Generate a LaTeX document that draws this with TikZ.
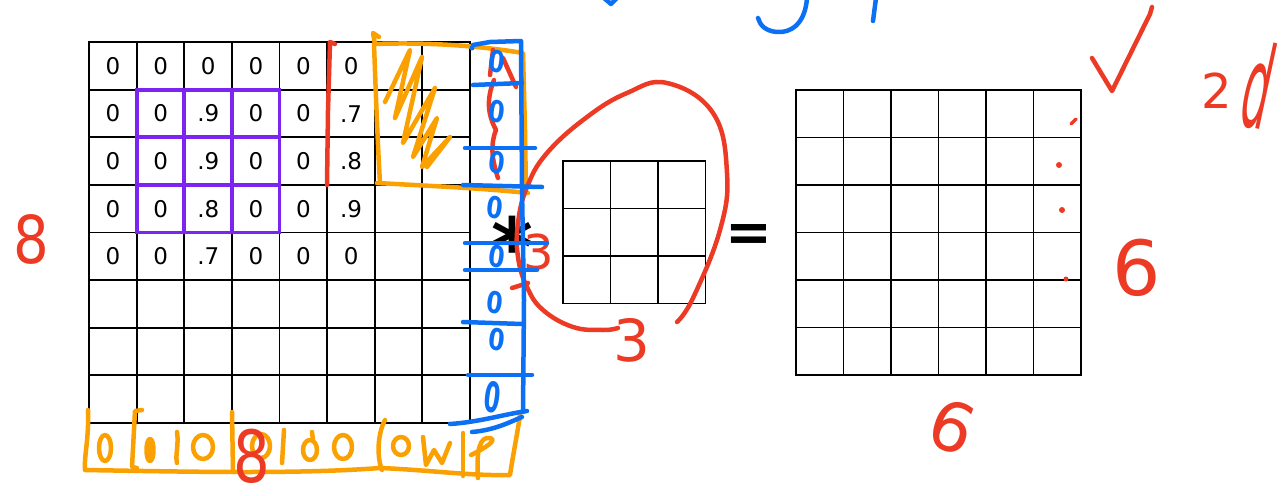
\documentclass[tikz,border=0pt]{standalone}
\usepackage{fontspec}
\setmainfont{DejaVu Sans}
\usepackage{graphicx}
\definecolor{hblue}{RGB}{12,112,245}
\definecolor{horange}{RGB}{250,160,0}
\definecolor{hred}{RGB}{236,58,36}
\definecolor{hpurple}{RGB}{124,36,240}
\tikzset{
  gline/.style={line width=1.8pt, black, line cap=rect},
  val/.style={font=\fontsize{23}{23}\selectfont, inner sep=0pt},
  pen/.style={line width=4.5pt, line cap=round, line join=round},
  bpen/.style={pen, hblue},
  open/.style={pen, horange},
  rpen/.style={pen, hred},
  ppen/.style={line width=3.8pt, hpurple, line cap=round},
  hand/.style={inner sep=0pt},
  bzero/.style={hand, text=hblue, font=\fontsize{30}{30}\selectfont\bfseries, xscale=0.78, rotate=-10},
}
\begin{document}
\begin{tikzpicture}[x=1pt,y=-1pt]
\useasboundingbox (0,0) rectangle (1287,495);
% ---- left 8x8 grid
\foreach \i in {0,...,8}{
  \draw[gline] ({89+\i*47.625},42) -- ({89+\i*47.625},423);
  \draw[gline] (89,{42+\i*47.625}) -- (470,{42+\i*47.625});
}
% ---- kernel 3x3
\foreach \i in {0,...,3}{
  \draw[gline] ({563+\i*47.5},161) -- ({563+\i*47.5},303.5);
  \draw[gline] (563,{161+\i*47.5}) -- (705.5,{161+\i*47.5});
}
% ---- output 6x6
\foreach \i in {0,...,6}{
  \draw[gline] ({796+\i*47.5},90) -- ({796+\i*47.5},375);
  \draw[gline] (796,{90+\i*47.5}) -- (1081,{90+\i*47.5});
}
% ---- values
\foreach \r/\c/\v in {0/0/0,0/1/0,0/2/0,0/3/0,0/4/0,0/5/0,
  1/0/0,1/1/0,1/2/.9,1/3/0,1/4/0,1/5/.7,
  2/0/0,2/1/0,2/2/.9,2/3/0,2/4/0,2/5/.8,
  3/0/0,3/1/0,3/2/.8,3/3/0,3/4/0,3/5/.9,
  4/0/0,4/1/0,4/2/.7,4/3/0,4/4/0,4/5/0}{
  \node[val] (v\r\c) at ({113+\c*47.625},{66+\r*47.625}) {\v};
}
% ---- purple 3x3 window
\draw[ppen] (136.6,89.6) rectangle (279.5,232.5);
\foreach \i in {1,2}{
  \draw[ppen] ({136.6+\i*47.625},89.6) -- ({136.6+\i*47.625},232.5);
  \draw[ppen] (136.6,{89.6+\i*47.625}) -- (279.5,{89.6+\i*47.625});
}
% ---- operators
\node[hand, font=\fontsize{80}{80}\selectfont\bfseries] (conv) at (512,246) {*};
\node[hand, font=\fontsize{56}{56}\selectfont\bfseries] (eq) at (749,238) {=};

% ---- orange annotations
\draw[open] (375,44) -- (373,33) -- (379,37);
\draw[open] (374,44) .. controls (430,42) and (480,46) .. (523,53) -- (525,130) -- (526,193);
\draw[open] (374,44) .. controls (376,100) and (378,150) .. (380,183);
\draw[open] (377,183) .. controls (430,186) and (480,188) .. (528,193);
\draw[open] (385,102) -- (410,50) -- (395,118) -- (422,57) -- (403,143) -- (435,88)
  -- (413,157) -- (437,118) -- (422,167) -- (450,137) -- (427,167);
\draw[open] (88,410) .. controls (89,440) and (84,455) .. (85,470)
  .. controls (200,472) and (300,474) .. (380,468)
  .. controls (430,470) and (470,476) .. (510,475)
  .. controls (513,455) and (518,430) .. (520,415);
\draw[open] (142,410) -- (135,411) -- (132,467) -- (137,468);
\draw[open] (232,412) -- (233,472);
\draw[open] (385,420) .. controls (377,435) and (377,458) .. (382,470);
\draw[open] (463,433) -- (463,476);
\draw[open] (105,448) ellipse [x radius=6pt, y radius=13pt];
\draw[open, fill=horange] (150,450) ellipse [x radius=3.5pt, y radius=11pt];
\draw[open] (177,432) .. controls (179,445) and (175,455) .. (177,463);
\draw[open] (203,447) ellipse [x radius=10pt, y radius=12pt];
\draw[open] (261,446) ellipse [x radius=9pt, y radius=12pt];
\draw[open] (284,430) -- (282,463);
\draw[open] (310,450) ellipse [x radius=7pt, y radius=10pt];
\draw[open] (312,432) -- (313,440);
\draw[open] (343,447) ellipse [x radius=9pt, y radius=12pt];
\draw[open] (401,446) ellipse [x radius=8pt, y radius=9pt];
\draw[open] (423,437) -- (426,465) -- (434,450) -- (442,463) -- (450,443);
\draw[open] (471,455) .. controls (485,448) and (498,440) .. (490,438)
  .. controls (480,436) and (476,450) .. (478,478);

% ---- red annotations
\draw[rpen] (335,44) -- (330,42) -- (328,110) -- (327,185);
\draw[rpen] (490,75) -- (493,50);
\draw[rpen] (503,58) -- (516,87);
\draw[rpen] (494,80) .. controls (486,100) and (488,115) .. (496,130)
  .. controls (490,145) and (492,160) .. (498,178);
\draw[rpen] plot[smooth, tension=0.7] coordinates {(677,322) (693,298) (720,230) (727,173)
  (713,113) (667,83) (627,93) (587,117) (547,153) (527,187) (518,223) (518,257)
  (527,287) (543,310) (573,327) (603,330) (618,328)};
\draw[rpen] (512,288) -- (528,283);
\draw[rpen] (1092,58) -- (1112,91) -- (1150,14) -- (1152,7);
\fill[hred] (1059,165) circle (3pt);
\fill[hred] (1062,210) circle (3pt);
\fill[hred] (1066,279) circle (2.5pt);
\draw[rpen, line width=3.5pt] (1071,124) -- (1076,119);
\node[hand, text=hred, font=\fontsize{66}{66}\selectfont, xscale=0.85] (eightL) at (31,239) {8};
\node[hand, text=hred, font=\fontsize{72}{72}\selectfont, xscale=0.8] (eightB) at (252,456) {8};
\node[hand, text=hred, font=\fontsize{58}{58}\selectfont] (threeK) at (632,340) {3};
\node[hand, text=hred, font=\fontsize{48}{48}\selectfont] (threeA) at (539,252) {3};
\node[hand, text=hred, font=\fontsize{76}{76}\selectfont] (sixR) at (1137,268) {6};
\node[hand, text=hred, font=\fontsize{68}{68}\selectfont, rotate=-20] (sixB) at (952,427) {6};
\node[hand, text=hred, anchor=base west, font=\fontsize{48}{48}\selectfont] (twod) at (1201,108)
  {2\hspace{4pt}\raisebox{-16pt}{\fontsize{72}{72}\selectfont\rotatebox{-12}{\scalebox{0.6}[1.6]{d}}}};

% ---- blue annotations
\draw[bpen] (473,45) -- (490,42) -- (521,41) -- (522,190) -- (524,300) -- (523,412);
\fill[hblue] (472,48) circle (2.5pt);
\draw[bpen] (473,85) -- (522,83);
\draw[bpen] (465,148) -- (535,148);
\draw[bpen] (463,185) -- (542,187);
\draw[bpen] (465,243) -- (547,243);
\draw[bpen] (465,270) -- (537,270);
\draw[bpen] (463,322) -- (522,324);
\draw[bpen] (468,375) -- (532,375);
\draw[bpen] (450,424) .. controls (480,422) and (505,414) .. (527,411);
\draw[bpen] (472,432) .. controls (495,430) and (510,422) .. (522,417);
\draw[bpen] (604,-2) -- (611,4) -- (617,-2);
\draw[bpen] (807,-2) .. controls (805,25) and (790,33) .. (777,32) .. controls (765,31) and (760,25) .. (758,18);
\draw[bpen] (876,-2) -- (873,21);
\node[bzero] (b0) at (497,62) {0};
\node[bzero] (b1) at (497,112) {0};
\node[bzero] (b2) at (497,163) {0};
\node[bzero] (b3) at (495,208) {0};
\node[bzero] (b4) at (497,257) {0};
\node[bzero] (b5) at (495,303) {0};
\node[bzero] (b6) at (497,340) {0};
\node[bzero, yscale=1.4] (b7) at (493,397) {0};
\end{tikzpicture}
\end{document}
